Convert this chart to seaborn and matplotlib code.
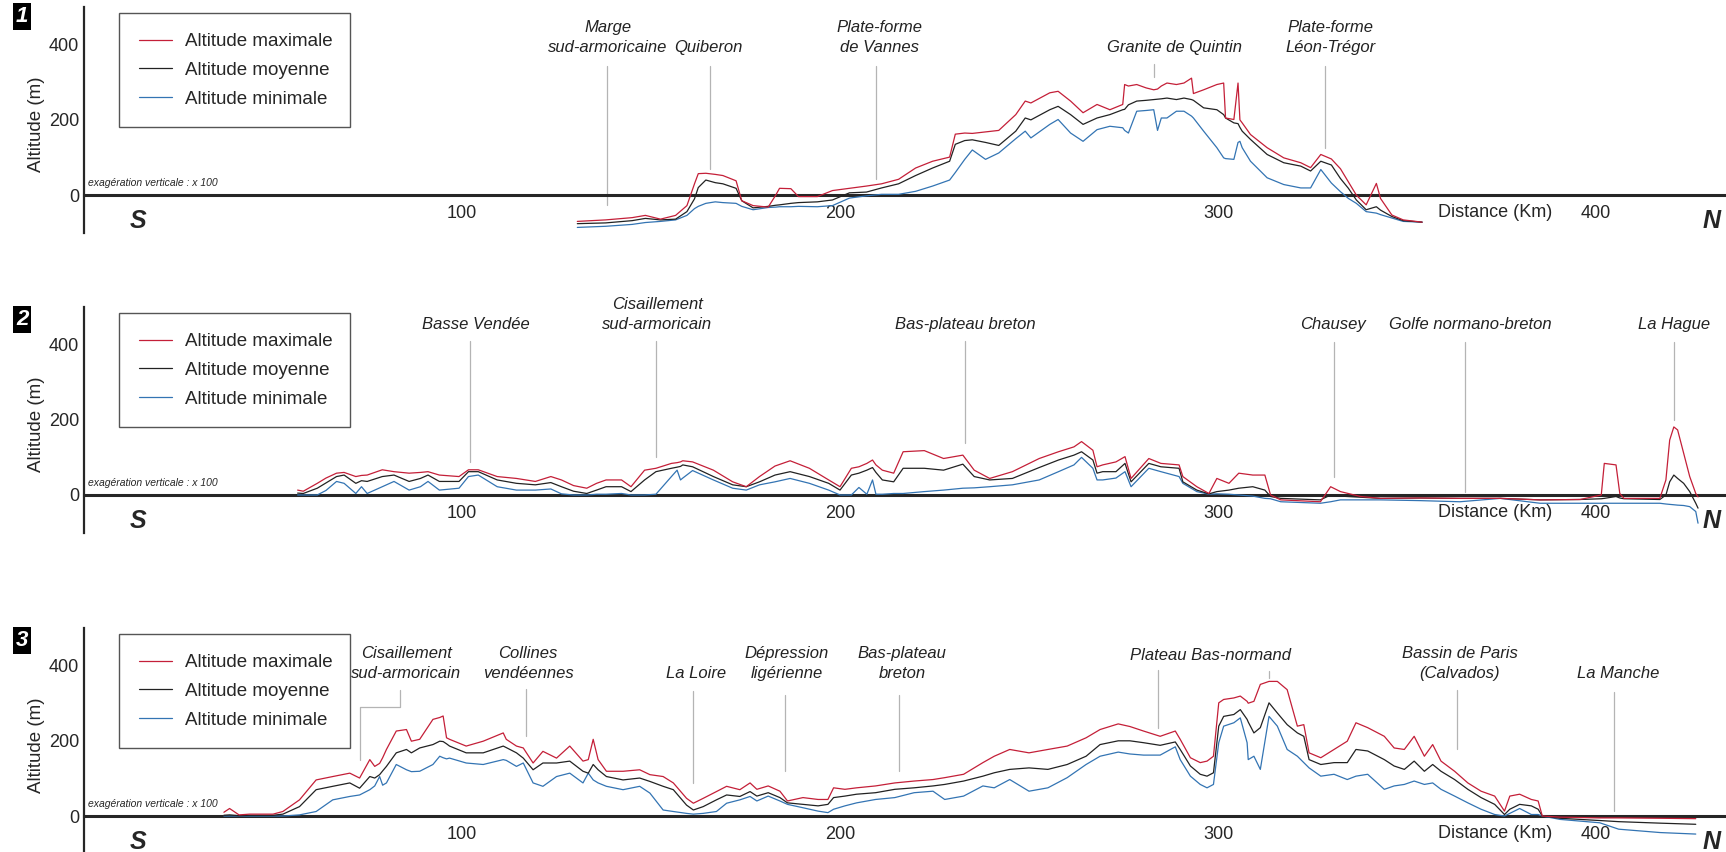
import matplotlib
matplotlib.use("Agg")
import matplotlib.pyplot as plt
import seaborn as sns
import pandas as pd
import numpy as np
from matplotlib.lines import Line2D
from matplotlib.ticker import FixedLocator, MultipleLocator, FuncFormatter

# ---- profil 1 ----
p1_km = [130.5, 138, 145, 148.5, 152.5, 156.5, 159.5, 161.5, 162.5, 164.5,
         167, 169, 172.5, 174, 177, 181, 183, 184, 187, 189,
         194, 198, 202.5, 207, 211, 215.5, 220, 224.5, 229, 230.5,
         233, 235, 238.5, 242, 246.5, 249, 250.5, 255.5, 257.7, 261,
         264.3, 268, 271.4, 274.8, 275.3, 276.3, 278.5, 281, 283, 284,
         285, 286.5, 289, 291, 293, 293.5, 296.2, 299.7, 301.5, 302,
         304.2, 305.3, 305.8, 306.4, 308.6, 313, 317.4, 321.9, 324.5, 327.2,
         330, 332.4, 334.5, 336.6, 339.2, 341.9, 343, 346, 349, 354]
p1_max = [-70, -66, -60, -54, -64, -54, -28, 30, 57, 58,
          55, 52, 38, -15, -28, -32, 0, 18, 17, -4,
          -4, 12, 18, 24, 30, 42, 72, 90, 101, 162,
          165, 164, 168, 172, 214, 250, 245, 272, 276, 250,
          219, 241, 227, 241, 294, 290, 294, 285, 280, 282,
          290, 298, 294, 298, 311, 270, 280, 294, 298, 205,
          201, 298, 200, 192, 161, 126, 99, 86, 73, 108,
          96, 70, 35, 0, -26, 31, -9, -53, -66, -72]
p1_moy = [-76, -74, -68, -62, -66, -64, -44, -10, 20, 40,
          33, 30, 18, -15, -34, -30, -27, -26, -22, -20,
          -18, -13, 6, 8, 19, 30, 52, 72, 90, 135,
          145, 147, 140, 132, 170, 205, 200, 227, 236, 214,
          188, 205, 214, 227, 228, 240, 250, 252, 254, 255,
          256, 258, 254, 258, 254, 252, 232, 227, 214, 205,
          192, 190, 180, 170, 148, 108, 86, 77, 64, 90,
          80, 44, 18, -13, -39, -31, -40, -57, -68, -72]
p1_min = [-86, -83, -78, -73, -70, -66, -54, -36, -30, -22,
          -18, -20, -22, -30, -39, -33, -32, -31, -31, -30,
          -31, -28, -8, -2, 2, 2, 10, 24, 40, 60,
          95, 120, 95, 112, 150, 170, 152, 188, 201, 165,
          143, 174, 183, 179, 172, 165, 223, 225, 227, 172,
          205, 205, 223, 223, 210, 205, 170, 126, 99, 97,
          95, 140, 143, 126, 90, 46, 28, 19, 19, 68,
          32, 9, -9, -22, -44, -48, -52, -61, -70, -72]

# ---- profil 2 ----
p2_km = [56.5, 58, 61.7, 64, 66.8, 68.8, 71.9, 73.4, 74.9, 78.9,
         82, 86, 89, 91, 94, 99.2, 101.7, 104.3, 109.3, 114.4,
         119.4, 123.5, 126.3, 129.5, 133, 135.6, 138.1, 142.2, 144.7, 148.3,
         151.3, 155.4, 156.9, 157.8, 158.4, 161, 166.5, 171.6, 175.2, 178.7,
         182.8, 186.8, 191.9, 197, 200, 203, 205, 207.1, 208.6, 209.5,
         211.2, 214.2, 216.7, 222.3, 227.4, 232.5, 235.5, 239.6, 245.6, 252.7,
         257.8, 261.9, 263.9, 266.9, 268, 269.5, 273, 275.4, 277, 281.7,
         284.9, 289.7, 290.7, 294.4, 297.6, 299.7, 302.9, 305.5, 309.2, 312.4,
         313.9, 316.6, 327.1, 329.8, 332.4, 337.7, 343, 353.5, 364, 374.7,
         385.2, 395.8, 401.4, 402.2, 405.3, 406.3, 407.4, 416.9, 418.5, 419.5,
         420.6, 421.6, 423.2, 424.8, 426.4, 427]
p2_max = [13, 10, 31, 45, 58, 60, 49, 52, 53, 67,
          62, 58, 60, 62, 53, 49, 67, 67, 49, 44,
          36, 49, 40, 25, 18, 31, 40, 40, 22, 66,
          71, 84, 86, 88, 91, 88, 66, 35, 22, 49,
          77, 91, 71, 40, 22, 71, 75, 84, 93, 80,
          66, 58, 115, 118, 97, 106, 66, 44, 62, 97,
          115, 128, 142, 119, 75, 80, 88, 102, 44, 97,
          84, 80, 49, 22, 4, 44, 31, 58, 53, 53,
          0, -13, -18, 22, 9, -4, -9, -8, -9, -9,
          -13, -12, 0, 84, 80, 4, -9, -9, 40, 146,
          181, 173, 111, 49, 4, -5]
p2_moy = [5, 4, 18, 32, 49, 53, 31, 38, 36, 49,
          53, 36, 44, 53, 36, 36, 62, 62, 40, 31,
          27, 33, 22, 10, 4, 13, 22, 22, 9, 40,
          62, 71, 74, 76, 80, 75, 49, 27, 22, 35,
          53, 62, 49, 31, 13, 53, 58, 66, 73, 60,
          40, 35, 71, 71, 66, 82, 49, 40, 44, 73,
          93, 106, 115, 93, 58, 62, 62, 84, 35, 84,
          75, 71, 35, 13, 3, 9, 13, 18, 22, 13,
          -4, -9, -13, 0, -3, -6, -9, -8, -9, -9,
          -13, -12, -10, -9, -4, -8, -10, -12, 0, 35,
          53, 44, 31, 9, -22, -35]
p2_min = [0, 0, 0, 12, 36, 31, 4, 22, 4, 22,
          36, 13, 22, 36, 13, 18, 49, 53, 22, 13,
          13, 16, 3, 0, 0, 2, 2, 4, 0, 0,
          2, 49, 66, 40, 45, 65, 40, 18, 13, 27,
          35, 44, 31, 13, 0, 0, 20, 2, 40, 2,
          2, 4, 4, 9, 13, 18, 19, 22, 27, 40,
          62, 80, 100, 71, 40, 40, 45, 62, 22, 71,
          62, 49, 31, 9, 2, 3, 2, 0, -3, -9,
          -10, -18, -22, -18, -13, -13, -13, -15, -18, -9,
          -22, -22, -22, -22, -22, -22, -22, -22, -24, -25,
          -26, -27, -28, -31, -44, -75]

# ---- profil 3 ----
p3_km = [37, 38.5, 41, 43.8, 50, 52.6, 57, 61.4, 65.8, 70.3,
         72.9, 75.6, 76.9, 78.2, 79, 80, 82.6, 85.3, 86.6, 88.8,
         92.3, 94.1, 95, 95.9, 96.7, 101.1, 105.6, 110.9, 111.7, 114.4,
         116.2, 118.8, 121.4, 125, 128.5, 132, 133.4, 134.7, 136, 138.2,
         142.6, 147, 149.7, 153.2, 155.9, 159.4, 161.2, 163.8, 167.3, 170,
         173.5, 176.2, 178, 181, 184.1, 186.1, 190.2, 194.2, 196.8, 198.3,
         201.3, 204.4, 209.4, 214.5, 219.6, 224.6, 227.7, 232.7, 237.8, 240.8,
         244.9, 250, 255, 260.1, 265.1, 268.8, 273.6, 276.7, 280.3, 284.7,
         288.7, 290, 292.7, 295.3, 297.1, 298.8, 300.2, 301.5, 304.2, 305.9,
         307.7, 308, 309.5, 311.2, 313.5, 315.7, 318.3, 321, 322.7, 324.1,
         327.2, 330.7, 334.2, 336.5, 339.6, 344, 346.6, 349.3, 351.9, 354.6,
         356.8, 359, 362.6, 366.1, 369.6, 373.2, 375.8, 377.2, 379.8, 382.9,
         384.7, 385.8, 390.5, 401, 406, 417, 426.4]
p3_max = [10, 20, 3, 5, 5, 12, 43, 96, 105, 114,
          101, 150, 132, 140, 155, 177, 226, 230, 199, 204,
          257, 262, 266, 208, 204, 186, 199, 221, 204, 186,
          181, 141, 172, 154, 186, 146, 150, 204, 150, 119,
          119, 123, 110, 105, 88, 47, 34, 47, 65, 79,
          70, 88, 71, 80, 66, 40, 49, 44, 44, 75,
          71, 75, 80, 88, 93, 97, 102, 111, 142, 159,
          177, 168, 177, 186, 208, 230, 245, 238, 226, 212,
          226, 204, 155, 142, 146, 159, 301, 310, 314, 319,
          305, 300, 305, 350, 358, 358, 336, 239, 243, 168,
          155, 177, 199, 248, 235, 212, 181, 177, 212, 159,
          190, 146, 119, 88, 66, 53, 13, 53, 58, 44,
          40, 0, -3, -5, -5, -6, -7]
p3_moy = [2, 3, 1, 2, 2, 5, 25, 70, 79, 88,
          74, 105, 101, 110, 120, 132, 168, 177, 168, 181,
          190, 199, 198, 192, 186, 168, 168, 186, 182, 168,
          154, 123, 141, 141, 146, 119, 114, 137, 123, 105,
          96, 101, 92, 79, 70, 29, 16, 25, 43, 56,
          52, 65, 53, 62, 49, 35, 31, 27, 31, 49,
          53, 58, 62, 71, 75, 80, 84, 93, 106, 115,
          124, 128, 124, 137, 159, 190, 200, 200, 195, 188,
          197, 177, 133, 111, 106, 115, 239, 265, 270, 283,
          257, 250, 221, 235, 301, 274, 243, 221, 212, 150,
          137, 142, 142, 177, 173, 150, 133, 124, 146, 119,
          137, 119, 97, 71, 49, 31, 4, 18, 31, 27,
          18, 0, -6, -12, -15, -19, -22]
p3_min = [0, 0, 0, 0, 0, 0, 3, 12, 43, 52,
          56, 70, 80, 105, 82, 88, 137, 123, 118, 119,
          137, 159, 155, 152, 154, 141, 137, 150, 148, 132,
          141, 88, 79, 105, 114, 88, 114, 96, 88, 79,
          70, 79, 61, 16, 12, 7, 5, 7, 12, 34,
          43, 52, 40, 53, 40, 31, 22, 13, 9, 18,
          27, 35, 44, 49, 62, 66, 44, 53, 80, 75,
          97, 66, 75, 102, 137, 159, 170, 165, 162, 162,
          184, 150, 106, 84, 75, 84, 195, 239, 248, 261,
          195, 150, 159, 124, 265, 239, 177, 159, 142, 128,
          106, 111, 97, 106, 111, 71, 80, 84, 93, 84,
          88, 71, 53, 35, 18, 4, 0, 7, 20, 4,
          4, 0, -9, -18, -35, -44, -48]

series_names = ["Altitude maximale", "Altitude moyenne", "Altitude minimale"]
palette = {"Altitude maximale": "#c41f38", "Altitude moyenne": "#222222",
           "Altitude minimale": "#3374b3"}

# annotations: (texte, x texte, x trait, haut, bas)
notes1 = [("Marge\nsud-armoricaine", 138.5, 138.3, 342, -26),
          ("Quiberon", 165.3, 165.7, 342, 70),
          ("Plate-forme\nde Vannes", 210.4, 209.4, 342, 44),
          ("Granite de Quintin", 288.6, 283.0, 348, 314),
          ("Plate-forme\nLéon-Trégor", 329.7, 328.3, 342, 124)]
notes2 = [("Basse Vendée", 103.7, 102.2, 409, 88),
          ("Cisaillement\nsud-armoricain", 151.6, 151.3, 409, 102),
          ("Bas-plateau breton", 233.2, 233.0, 409, 137),
          ("Chausey", 330.3, 330.8, 407, 49),
          ("Golfe normano-breton", 366.7, 365.4, 407, 9),
          ("La Hague", 420.6, 420.6, 407, 199)]
notes3 = [("Cisaillement\nsud-armoricain", 85.3, None, None, None),
          ("Collines\nvendéennes", 117.5, 116.9, 337, 212),
          ("La Loire", 162.0, 161.2, 333, 88),
          ("Dépression\nligérienne", 186.0, 185.4, 323, 119),
          ("Bas-plateau\nbreton", 216.5, 215.7, 323, 119),
          ("Bassin de Paris\n(Calvados)", 363.9, 363.2, 336, 177),
          ("La Manche", 405.8, 404.8, 329, 13)]

sns.set_style("white")
plt.rcParams["font.family"] = ["Liberation Sans", "DejaVu Sans"]

fig = plt.figure(figsize=(17.26, 8.52), dpi=100)

FS_TICK = 13
FS_NOTE = 12
FS_LEG = 13.5
GREY = "#b4b4b4"


def draw_panel(ax, km, vmax, vmoy, vmin, num, num_y, notes, text_y):
    df = pd.DataFrame({
        "km": list(km) * 3,
        "alt": list(vmax) + list(vmoy) + list(vmin),
        "serie": [series_names[0]] * len(km) + [series_names[1]] * len(km)
                 + [series_names[2]] * len(km),
    })
    sns.lineplot(data=df, x="km", y="alt", hue="serie", hue_order=series_names[::-1],
                 palette=palette, estimator=None, sort=False, lw=0.9,
                 legend=False, ax=ax, zorder=3)

    ax.set_xlim(0, 434.4)
    ax.set_ylim(-100, 500)
    ax.set_xlabel("")
    ax.set_ylabel("Altitude (m)", fontsize=13.5)
    ax.yaxis.set_label_coords(-0.024, 0.48)
    for s in ["top", "right"]:
        ax.spines[s].set_visible(False)
    ax.spines["bottom"].set_position(("data", 0))
    ax.spines["bottom"].set_linewidth(2.2)
    ax.spines["left"].set_linewidth(1.6)

    ax.xaxis.set_major_locator(FixedLocator([100, 200, 300, 400]))
    ax.xaxis.set_minor_locator(FixedLocator([50, 150, 250, 350]))
    ax.tick_params(axis="x", which="both", direction="in", length=6, width=1.6,
                   pad=7, labelsize=FS_TICK)
    ax.yaxis.set_major_locator(MultipleLocator(100))
    ax.yaxis.set_minor_locator(MultipleLocator(50))
    ax.yaxis.set_major_formatter(
        FuncFormatter(lambda v, p: f"{int(round(v))}" if round(v) in (0, 200, 400) else ""))
    ax.tick_params(axis="y", which="major", direction="in", length=22, width=1.5,
                   pad=3.5, labelsize=FS_TICK)
    ax.tick_params(axis="y", which="minor", direction="in", length=11, width=1.2)

    ax.text(373.3, -47, "Distance (Km)", fontsize=FS_TICK, ha="center", va="center")
    ax.text(14.2, -68, "S", fontsize=18, fontweight="bold", style="italic",
            ha="center", va="center")
    ax.text(430.7, -70, "N", fontsize=18, fontweight="bold", style="italic",
            ha="center", va="center", clip_on=False)
    ax.text(1.0, 31, "exagération verticale : x 100", fontsize=7.5, style="italic",
            ha="left", va="center")

    for label, tx, lx, top, bot in notes:
        ax.text(tx, text_y, label, fontsize=FS_NOTE, style="italic", ha="center",
                va="bottom", linespacing=1.4, color="#222222", clip_on=False)
        if lx is not None:
            ax.plot([lx, lx], [top, bot], color=GREY, lw=0.9, zorder=2)

    handles = [Line2D([], [], color=palette[n], lw=0.9) for n in series_names]
    leg = ax.legend(handles, series_names, loc="upper left",
                    bbox_to_anchor=(0.0213, 0.972, 0.1407, 0.0), mode="expand",
                    borderaxespad=0, fontsize=FS_LEG, frameon=True, fancybox=False,
                    edgecolor="#555555", framealpha=1, handlelength=1.75,
                    handletextpad=0.7, labelspacing=0.62, borderpad=1.05)
    leg.get_frame().set_linewidth(1.0)

    fig.text(0.0128, num_y, num, fontsize=16, fontweight="bold", style="italic",
             color="white", ha="center", va="center",
             bbox=dict(boxstyle="square,pad=0.14", fc="black", ec="none"))


ax1 = fig.add_axes([0.0487, 0.7269, 0.9513, 0.2648])
ax2 = fig.add_axes([0.0487, 0.3749, 0.9513, 0.2648])
ax3 = fig.add_axes([0.0487, -0.0019, 0.9513, 0.2648])

draw_panel(ax1, p1_km, p1_max, p1_moy, p1_min, "1", 0.9805, notes1, 372)
draw_panel(ax2, p2_km, p2_max, p2_moy, p2_min, "2", 0.6250, notes2, 433)
draw_panel(ax3, p3_km, p3_max, p3_moy, p3_min, "3", 0.2482, notes3, 359)

# panneau 3 : annotations particulières
ax3.plot([83.5, 83.5, 73, 73], [336, 289, 289, 148], color=GREY, lw=0.9, zorder=2)
ax3.text(298, 408, "Plateau Bas-normand", fontsize=FS_NOTE, style="italic", ha="center",
         va="bottom", color="#222222")
ax3.plot([284, 284], [389, 235], color=GREY, lw=0.9, zorder=2)
ax3.plot([313.5, 313.5], [385, 367], color=GREY, lw=0.9, zorder=2)

fig.savefig("out.png", dpi=100)
